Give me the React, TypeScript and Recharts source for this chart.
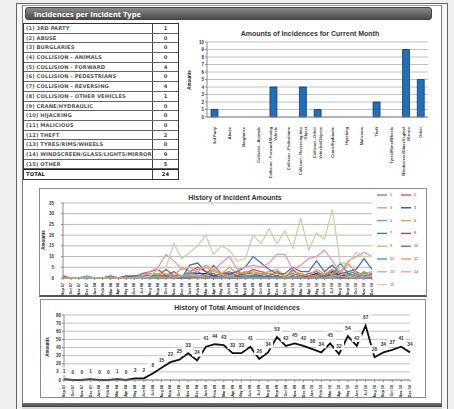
import React from 'react';
import { LineChart, Line, XAxis, YAxis, CartesianGrid, BarChart, Bar, LabelList } from 'recharts';

// ---------- Table / bar chart data ----------
const incidentTypes = [
  '(1) 3RD PARTY',
  '(2) ABUSE',
  '(3) BURGLARIES',
  '(4) COLLISION - ANIMALS',
  '(5) COLLISION - FORWARD',
  '(6) COLLISION - PEDESTRIANS',
  '(7) COLLISION - REVERSING',
  '(8) COLLISION - OTHER VEHICLES',
  '(9) CRANE/HYDRAULIC',
  '(10) HIJACKING',
  '(11) MALICIOUS',
  '(12) THEFT',
  '(13) TYRES/RIMS/WHEELS',
  '(14) WINDSCREEN/GLASS/LIGHTS/MIRRORS',
  '(15) OTHER',
];
const incidentCounts = [1, 0, 0, 0, 4, 0, 4, 1, 0, 0, 0, 2, 0, 9, 5];
const totalLabel = 24;

const barCategories = [
  '3rd Party',
  'Abuse',
  'Burglaries',
  'Collision - Animals',
  'Collision - Forward Moving\nVehicle',
  'Collision - Pedestrians',
  'Collision - Reversing Into\nObject',
  'Collision - Other\nVehicles/Objects',
  'Crane/Hydraulic',
  'Hijacking',
  'Malicious',
  'Theft',
  'Tyres/Rims/Wheels',
  'Windscreen/Glass/Lights/\nMirrors',
  'Other',
];

// ---------- History data ----------
const months = [
  'Sep 07', 'Oct 07', 'Nov 07', 'Dec 07', 'Jan 08', 'Feb 08', 'Mar 08', 'Apr 08', 'May 08', 'Jun 08',
  'Jul 08', 'Aug 08', 'Sep 08', 'Oct 08', 'Nov 08', 'Dec 08', 'Jan 09', 'Feb 09', 'Mar 09', 'Apr 09',
  'May 09', 'Jun 09', 'Jul 09', 'Aug 09', 'Sep 09', 'Oct 09', 'Nov 09', 'Dec 09', 'Jan 10', 'Feb 10',
  'Mar 10', 'Apr 10', 'May 10', 'Jun 10', 'Jul 10', 'Aug 10', 'Sep 10', 'Oct 10', 'Nov 10', 'Dec 10',
];

const totalAmounts = [
  1, 0, 0, 1, 0, 0, 1, 0, 2, 2,
  8, 15, 22, 25, 33, 24, 41, 44, 43, 33,
  33, 41, 26, 34, 53, 42, 45, 42, 38, 34,
  45, 32, 54, 42, 67, 28, 34, 37, 41, 34,
];

const s1 = [0, 0, 0, 0, 0, 0, 0, 0, 1, 1, 1, 2, 1, 4, 1, 1, 2, 3, 1, 6, 2, 3, 1, 3, 2, 2, 1, 3, 1, 2, 1, 2, 3, 1, 2, 1, 2, 3, 1, 1];
const s2 = [1, 0, 0, 0, 0, 0, 1, 0, 1, 0, 2, 3, 4, 1, 3, 0, 3, 5, 3, 1, 2, 2, 3, 2, 4, 3, 2, 1, 0, 4, 1, 1, 2, 1, 4, 1, 2, 1, 0, 1];
const s3 = [0, 0, 0, 0, 0, 0, 0, 0, 0, 0, 0, 1, 0, 0, 0, 0, 1, 0, 0, 1, 0, 1, 0, 1, 1, 0, 1, 0, 0, 0, 1, 0, 1, 0, 1, 0, 0, 0, 0, 0];
const s4 = [0, 0, 0, 0, 0, 0, 0, 0, 0, 0, 0, 0, 1, 0, 1, 1, 2, 2, 2, 1, 0, 2, 1, 2, 2, 1, 0, 1, 0, 1, 0, 1, 2, 0, 3, 1, 1, 2, 1, 2];
const s5 = [0, 0, 0, 1, 0, 0, 0, 0, 0, 0, 1, 1, 2, 0, 0, 1, 3, 1, 0, 0, 1, 0, 1, 1, 1, 2, 1, 0, 0, 0, 1, 0, 1, 0, 1, 0, 1, 2, 1, 1];
const s6 = [0, 0, 0, 0, 0, 0, 0, 0, 0, 0, 1, 2, 2, 2, 1, 5, 3, 4, 5, 3, 2, 5, 2, 3, 2, 2, 3, 4, 1, 3, 2, 1, 4, 2, 4, 2, 7, 2, 2, 3];
const s7 = [0, 0, 0, 0, 0, 0, 0, 0, 0, 1, 1, 1, 1, 0, 1, 0, 6, 7, 3, 2, 0, 2, 3, 5, 10, 7, 4, 2, 2, 5, 3, 3, 8, 3, 6, 2, 3, 4, 9, 4];
const s8 = [0, 0, 0, 0, 0, 0, 0, 0, 0, 0, 0, 0, 1, 1, 0, 1, 1, 0, 1, 0, 1, 0, 1, 0, 0, 1, 0, 1, 0, 0, 0, 1, 0, 1, 1, 0, 0, 0, 0, 0];
const s9 = [0, 0, 0, 0, 0, 0, 0, 0, 0, 0, 0, 0, 0, 0, 0, 0, 0, 0, 0, 0, 0, 0, 0, 0, 0, 0, 0, 0, 0, 0, 0, 0, 0, 0, 0, 0, 0, 0, 0, 0];
const s10 = [0, 0, 0, 0, 0, 0, 0, 0, 0, 0, 0, 0, 0, 0, 0, 0, 0, 1, 0, 0, 0, 1, 0, 0, 1, 0, 1, 0, 0, 0, 0, 0, 0, 0, 1, 0, 0, 0, 0, 0];
const s11 = [0, 0, 0, 0, 0, 0, 0, 0, 0, 0, 1, 1, 0, 1, 1, 0, 0, 1, 1, 0, 1, 0, 0, 1, 1, 1, 0, 1, 0, 1, 0, 0, 1, 1, 1, 7, 2, 0, 3, 0];
const s12 = [0, 0, 0, 0, 0, 0, 0, 0, 0, 0, 0, 0, 1, 0, 1, 1, 2, 1, 1, 4, 2, 1, 2, 2, 3, 2, 2, 2, 1, 0, 2, 1, 1, 2, 2, 3, 1, 1, 2, 1];
const s13 = [0, 0, 0, 0, 0, 0, 0, 0, 0, 0, 0, 0, 0, 0, 0, 1, 1, 1, 0, 0, 0, 1, 0, 0, 0, 0, 0, 0, 0, 0, 0, 0, 0, 0, 1, 1, 0, 0, 0, 1];
const s14 = [0, 0, 0, 0, 0, 0, 0, 0, 0, 0, 1, 3, 5, 11, 8, 4, 5, 3, 6, 4, 7, 10, 4, 5, 6, 5, 7, 11, 11, 4, 6, 9, 10, 13, 8, 3, 8, 10, 12, 10];
const s15 = [0, 0, 0, 0, 0, 0, 0, 0, 0, 0, 0, 1, 4, 5, 16, 9, 12, 15, 20, 11, 15, 13, 8, 9, 20, 16, 23, 16, 22, 14, 28, 13, 21, 18, 32, 7, 7, 12, 10, 10];

const seriesNames = ['1', '2', '3', '4', '5', '6', '7', '8', '9', '10', '11', '12', '13', '14', '15'];
const seriesValues = [s1, s2, s3, s4, s5, s6, s7, s8, s9, s10, s11, s12, s13, s14, s15];
const seriesColors = [
  '#4F81BD', '#C0504D', '#9BBB59', '#2F3F6F', '#4BACC6', '#F79646', '#3F72B5', '#B8403D',
  '#A6C466', '#6F5B9C', '#2EA1A8', '#F5902F', '#A9A9D6', '#E49AAE', '#C4D79B',
];

const barData = barCategories.map((c, i) => ({ name: c, value: incidentCounts[i] }));
const historyData = months.map((m, i) => {
  const row: Record<string, any> = { month: m, total: totalAmounts[i] };
  seriesValues.forEach((s, k) => { row['s' + (k + 1)] = s[i]; });
  return row;
});

const FONT = '"Liberation Sans", Arial, sans-serif';
const TFONT = '"DejaVu Sans", sans-serif';

const MonthTick = (props: any) => {
  const { x, y, payload } = props;
  return (
    <text transform={`translate(${x},${y + 1}) rotate(-90)`} x={0} y={0} textAnchor="end"
      dominantBaseline="central" fontSize={3.8} fontWeight="bold" fill="#222" fontFamily={FONT}>
      {payload.value}
    </text>
  );
};

const BarTick = (props: any) => {
  const { x, y, payload } = props;
  const lines = String(payload.value).split('\n');
  const n = lines.length;
  return (
    <g transform={`translate(${x},${y + 2}) rotate(-90)`}>
      {lines.map((l, k) => (
        <text key={k} x={0} y={(k - (n - 1) / 2) * 5.2} textAnchor="end" dominantBaseline="central"
          fontSize={4} fontWeight="bold" fill="#333" fontFamily={FONT}>{l}</text>
      ))}
    </g>
  );
};

const TotalLabel = (props: any) => {
  const { x, y, value } = props;
  if (x == null || y == null) return null;
  return (
    <g>
      <rect x={x - 5} y={y - 12} width={10} height={8} fill="#ffffff" />
      <text x={x} y={y - 7.8} textAnchor="middle" dominantBaseline="central" fontSize={4.8}
        fontWeight="bold" fill="#333" fontFamily={FONT}>{value}</text>
    </g>
  );
};

const yTickStyle = { fontSize: 4.5, fill: '#333', fontFamily: FONT, fontWeight: 'bold' as const };

const abs = (l: number, t: number, w: number, h: number): React.CSSProperties => ({
  position: 'absolute', left: l, top: t, width: w, height: h, boxSizing: 'border-box',
});

const VLabel = ({ x, y, text }: { x: number; y: number; text: string }) => (
  <div style={{
    position: 'absolute', left: x - 20, top: y - 3, width: 40, height: 6, lineHeight: '6px',
    textAlign: 'center', fontSize: 4.5, fontWeight: 'bold', fontFamily: FONT, color: '#222',
    transform: 'rotate(-90deg)',
  }}>{text}</div>
);

const Title = ({ x, y, text }: { x: number; y: number; text: string }) => (
  <div style={{
    position: 'absolute', left: x - 120, top: y - 5, width: 240, height: 10, lineHeight: '10px',
    textAlign: 'center', fontSize: 7, fontWeight: 'bold', fontFamily: FONT, color: '#333',
  }}>{text}</div>
);

export default function App() {
  const rowH = 9.7;
  const cellText: React.CSSProperties = {
    fontSize: 5.2, fontWeight: 'bold', lineHeight: `${rowH - 1}px`, fontFamily: TFONT, letterSpacing: 0.1,
  };
  return (
    <div style={{ position: 'absolute', left: 0, top: 0, width: 454, height: 409, overflow: 'hidden', background: '#efefef', fontFamily: FONT }}>
      {/* frames */}
      <div style={{ ...abs(16, 3, 432, 420), border: '1px solid #666', background: '#f6f6f6' }} />
      <div style={{ ...abs(22, 5, 420, 420), borderLeft: '1px solid #777', borderRight: '1px solid #777', borderTop: '1px solid #999', background: '#ffffff' }} />

      {/* header bar */}
      <div style={{
        ...abs(25, 7, 407, 13), borderRadius: 3, background: 'linear-gradient(#8a8a8a, #4a4a4a)',
        color: '#fff', fontWeight: 'bold', fontSize: 7.5, lineHeight: '12px', paddingLeft: 8,
        fontFamily: '"Open Sans", sans-serif', border: '1px solid #444',
      }}>Incidences per Incident Type</div>

      {/* table */}
      <div style={{ ...abs(23, 23, 156, rowH * 16 + 2), border: '1px solid #333', background: '#fff' }}>
        {incidentTypes.map((t, i) => (
          <div key={i} style={{ display: 'flex', height: rowH, boxSizing: 'border-box', borderBottom: '1px solid #666' }}>
            <div style={{
              ...cellText, width: 129, borderRight: '1px solid #444', boxSizing: 'border-box', overflow: 'hidden',
              whiteSpace: 'nowrap', color: '#555', paddingLeft: 2,
            }}>{t}</div>
            <div style={{ ...cellText, flex: 1, textAlign: 'center', color: '#444' }}>{incidentCounts[i]}</div>
          </div>
        ))}
        <div style={{ display: 'flex', height: rowH, boxSizing: 'border-box', borderTop: '1px solid #222' }}>
          <div style={{
            ...cellText, width: 129, borderRight: '1px solid #444', boxSizing: 'border-box', color: '#111', paddingLeft: 2,
          }}>TOTAL</div>
          <div style={{ ...cellText, flex: 1, textAlign: 'center', color: '#111' }}>{totalLabel}</div>
        </div>
      </div>

      {/* bar chart */}
      <Title x={310} y={34} text="Amounts of Incidences for Current Month" />
      <VLabel x={190} y={80} text="Amounts" />
      <div style={abs(185, 26, 254, 152)}>
        <BarChart width={254} height={152} data={barData} margin={{ top: 16, right: 11, bottom: 4, left: 8 }}>
          <CartesianGrid vertical={false} stroke="#b0b0b0" strokeWidth={0.8} />
          <XAxis dataKey="name" interval={0} height={57} tick={<BarTick />} tickLine={false} stroke="#888" />
          <YAxis width={14} domain={[0, 10]} ticks={[0, 1, 2, 3, 4, 5, 6, 7, 8, 9, 10]} tick={yTickStyle}
            tickSize={2} tickMargin={1} stroke="#888" interval={0} />
          <Bar dataKey="value" fill="#1E6FC2" stroke="#0A2A55" strokeWidth={0.7} barSize={7} isAnimationActive={false} />
        </BarChart>
      </div>

      {/* history of incident amounts */}
      <div style={{ ...abs(39, 188, 388, 109), border: '1.5px solid #8c8c8c', borderBottom: '2px solid #555' }} />
      <Title x={235} y={198} text="History of Incident Amounts" />
      <VLabel x={44} y={240} text="Amounts" />
      <div style={abs(40, 189, 386, 106)}>
        <LineChart width={386} height={106} data={historyData} margin={{ top: 14, right: 54, bottom: 2, left: 5 }}>
          <CartesianGrid vertical={false} stroke="#a8a8a8" strokeWidth={0.8} />
          <XAxis dataKey="month" interval={0} height={15} tick={<MonthTick />} tickSize={2} stroke="#888" />
          <YAxis width={18} domain={[0, 35]} ticks={[0, 5, 10, 15, 20, 25, 30, 35]} tick={yTickStyle}
            tickSize={2} tickMargin={7} stroke="#888" interval={0} />
          {seriesNames.map((n, k) => (
            <Line key={n} dataKey={'s' + (k + 1)} name={n} stroke={seriesColors[k]} strokeWidth={1.3}
              dot={false} type="linear" isAnimationActive={false} />
          ))}
        </LineChart>
      </div>
      {/* legend */}
      <svg style={{ position: 'absolute', left: 374, top: 188, width: 56, height: 104 }}>
        {seriesNames.map((n, k) => {
          const col = k % 2;
          const row = Math.floor(k / 2);
          const lx = 3 + col * 24;
          const ly = 7 + row * 12.8;
          return (
            <g key={n}>
              <line x1={lx} x2={lx + 10} y1={ly} y2={ly} stroke={seriesColors[k]} strokeWidth={1.3} />
              <text x={lx + 13} y={ly} dominantBaseline="central" fontSize={3.8} fill="#444" fontFamily={FONT}>{n}</text>
            </g>
          );
        })}
      </svg>

      {/* history of total */}
      <div style={{ ...abs(40, 299, 386, 99), border: '1.5px solid #8c8c8c' }} />
      <Title x={237} y={308} text="History of Total Amount of Incidences" />
      <VLabel x={48} y={347} text="Amounts" />
      <div style={abs(41, 300, 384, 97)}>
        <LineChart width={384} height={97} data={historyData} margin={{ top: 15, right: 15, bottom: 2, left: 6 }}>
          <CartesianGrid vertical={false} stroke="#b0b0b0" strokeWidth={0.8} />
          <XAxis dataKey="month" interval={0} height={15} tick={<MonthTick />} tickSize={2} stroke="#888" />
          <YAxis width={17} domain={[0, 80]} ticks={[0, 10, 20, 30, 40, 50, 60, 70, 80]} tick={yTickStyle}
            tickSize={2} tickMargin={1} stroke="#888" interval={0} />
          <Line dataKey="total" stroke="#111" strokeWidth={1.8} dot={false} type="linear" isAnimationActive={false}>
            <LabelList dataKey="total" content={<TotalLabel />} />
          </Line>
        </LineChart>
      </div>

      {/* bottom bar */}
      <div style={{ ...abs(22, 403, 420, 4), background: 'linear-gradient(#777, #444)' }} />
      <div style={{ ...abs(22, 407, 420, 2), background: '#d8d8d8' }} />
    </div>
  );
}
